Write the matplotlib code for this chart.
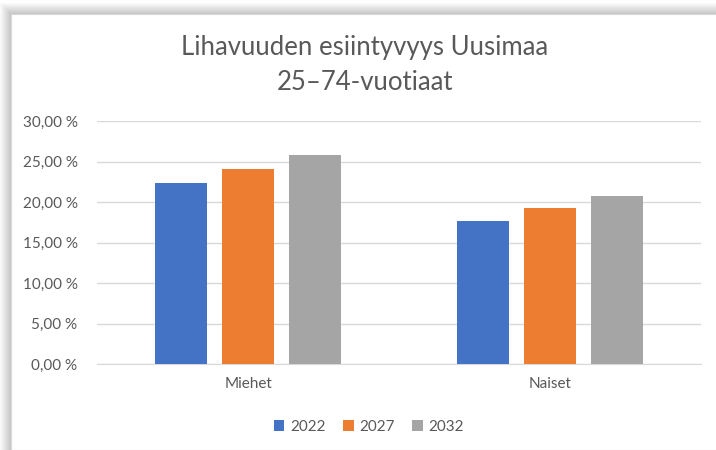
import matplotlib
matplotlib.use("Agg")
import matplotlib.pyplot as plt
from matplotlib.patches import Rectangle
import numpy as np

categories = ["Miehet", "Naiset"]
series_names = ["2022", "2027", "2032"]
values_2022 = [22.4, 17.7]
values_2027 = [24.1, 19.2]
values_2032 = [25.8, 20.7]
yticks = [0, 5, 10, 15, 20, 25, 30]
ytick_labels = ["0,00 %", "5,00 %", "10,00 %", "15,00 %", "20,00 %", "25,00 %", "30,00 %"]
title_lines = ["Lihavuuden esiintyvyys Uusimaa", "25–74-vuotiaat"]

colors = ["#4472C4", "#ED7D31", "#A5A5A5"]
txt = "#595959"
plt.rcParams['font.family'] = ['Lato', 'DejaVu Sans']

W, H = 716, 450
fig = plt.figure(figsize=(W / 100, H / 100), dpi=100)
fig.patch.set_facecolor("white")

# shadow / frame
for k in range(12):
    fig.add_artist(Rectangle(((11 - k) / W, 0), 1, (H - 14 + k) / H,
                             transform=fig.transFigure, facecolor="#000000",
                             alpha=0.018, edgecolor="none", zorder=0))
fig.add_artist(Rectangle((11 / W, 0), 1, (H - 14) / H, transform=fig.transFigure,
                         facecolor="white", edgecolor="#D9D9D9", lw=0.8, zorder=0.5))

ax = fig.add_axes([97 / W, 1 - 364 / H, (701 - 97) / W, (364 - 121) / H])
ax.set_facecolor("none")
ax.set_zorder(1)

x = np.arange(len(categories))
bw = 0.172
step = 0.222
for i, (vals, c, name) in enumerate(zip([values_2022, values_2027, values_2032], colors, series_names)):
    ax.bar(x + (i - 1) * step, vals, width=bw, color=c, label=name, zorder=3)

ax.set_xlim(-0.5, 1.5)
ax.set_ylim(0, 30)
ax.set_yticks(yticks)
ax.set_yticklabels(ytick_labels)
ax.set_xticks(x)
ax.set_xticklabels(categories)
ax.yaxis.grid(True, color="#D9D9D9", lw=1, zorder=0)
for s in ["top", "right", "left"]:
    ax.spines[s].set_visible(False)
ax.spines["bottom"].set_color("#D9D9D9")
ax.tick_params(axis="both", length=0, colors=txt, labelsize=11)
ax.tick_params(axis="y", pad=14)
ax.tick_params(axis="x", pad=9)

fig.text(365 / W, 1 - 47 / H, title_lines[0], ha="center", va="center", fontsize=18.5, color=txt)
fig.text(365 / W, 1 - 83 / H, title_lines[1], ha="center", va="center", fontsize=18.5, color=txt)

leg = ax.legend(loc="center", bbox_to_anchor=(369 / W, 1 - 427 / H),
                bbox_transform=fig.transFigure, ncol=3, frameon=False,
                fontsize=11, handlelength=0.7, handleheight=0.7,
                handletextpad=0.4, columnspacing=1.1)
for t in leg.get_texts():
    t.set_color(txt)

fig.savefig("out.png", dpi=100)
